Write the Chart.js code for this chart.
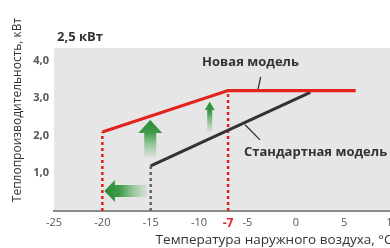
<!DOCTYPE html>
<html><head><meta charset="utf-8">
<script src="https://cdn.jsdelivr.net/npm/chart.js@4/dist/chart.umd.min.js"></script>
<style>
html,body{margin:0;padding:0;overflow:hidden;background:#fff;width:390px;height:248px}
#wrap{width:400px;height:248px}
</style></head>
<body><div id="wrap"><canvas id="c" width="400" height="248"></canvas></div>
<script>
// ---- data ----
const xTicks = [-25, -20, -15, -10, -7, -5, 0, 5, 10];
const yTicks = [1, 2, 3, 4];
const newModelX = [-20, -7, 6.2];
const newModelY = [2.1, 3.2, 3.2];
const stdModelX = [-15, 1.5];
const stdModelY = [1.2, 3.15];
const redDropX = [-20, -7];
const redDropY = [2.1, 3.2];
const grayDropX = [-15];
const grayDropY = [1.2];
const labels = ["Новая модель", "Стандартная модель"];
const unitLabel = "2,5 кВт";
const yTitle = "Теплопроизводительность, кВт";
const xTitle = "Температура наружного воздуха, °С";
const upArrows = [
  {x: -15.05, tip: 2.42, base: 2.07, tail: 1.45, head: 12, body: 6},
  {x: -8.9, tip: 2.9, base: 2.68, tail: 2.1, head: 5, body: 2.5}
];
const leftArrow = {y: 0.53, tip: -19.8, base: -18.7, tail: -15.4, head: 11, body: 6};

const RED = '#e3231d', DARK = '#333333', GRAY = '#555555';
const pts = (xs, ys) => xs.map((x, i) => ({x, y: ys[i]}));

const datasets = [
  {data: pts(newModelX, newModelY), borderColor: RED, borderWidth: 3.2},
  {data: pts(stdModelX, stdModelY), borderColor: DARK, borderWidth: 3}
];
redDropX.forEach((x, i) => datasets.push({data: [{x, y: 0}, {x, y: redDropY[i]}], borderColor: RED, borderWidth: 2.5, borderDash: [3, 3]}));
grayDropX.forEach((x, i) => datasets.push({data: [{x, y: 0}, {x, y: grayDropY[i]}], borderColor: '#666', borderWidth: 2.5, borderDash: [3, 3]}));
datasets.forEach(d => { d.pointRadius = 0; d.fill = false; d.tension = 0; });

const FONT = "'Open Sans', 'DejaVu Sans', sans-serif";

const deco = {
  id: 'deco',
  beforeDraw(chart) {
    const {ctx, chartArea: a} = chart;
    ctx.save();
    ctx.fillStyle = '#e6e6e6';
    ctx.fillRect(a.left, a.top, a.right - a.left, a.bottom - a.top);
    ctx.restore();
  },
  beforeDatasetsDraw(chart) {
    const {ctx, scales: {x, y}} = chart;
    ctx.save();
    upArrows.forEach(ar => {
      const cx = x.getPixelForValue(ar.x);
      const pt = y.getPixelForValue(ar.tip), pb = y.getPixelForValue(ar.base), pl = y.getPixelForValue(ar.tail);
      const g = ctx.createLinearGradient(0, pt, 0, pl);
      g.addColorStop(0, '#2e8b3a'); g.addColorStop(0.35, '#3d9a47'); g.addColorStop(1, 'rgba(120,190,125,0.15)');
      ctx.fillStyle = g;
      ctx.beginPath();
      ctx.moveTo(cx, pt); ctx.lineTo(cx + ar.head, pb); ctx.lineTo(cx + ar.body, pb);
      ctx.lineTo(cx + ar.body, pl); ctx.lineTo(cx - ar.body, pl); ctx.lineTo(cx - ar.body, pb);
      ctx.lineTo(cx - ar.head, pb); ctx.closePath(); ctx.fill();
    });
    const la = leftArrow;
    const cy = y.getPixelForValue(la.y);
    const xt = x.getPixelForValue(la.tip), xb = x.getPixelForValue(la.base), xl = x.getPixelForValue(la.tail);
    const g2 = ctx.createLinearGradient(xt, 0, xl, 0);
    g2.addColorStop(0, '#2e8b3a'); g2.addColorStop(0.35, '#3d9a47'); g2.addColorStop(1, 'rgba(120,190,125,0.15)');
    ctx.fillStyle = g2;
    ctx.beginPath();
    ctx.moveTo(xt, cy); ctx.lineTo(xb, cy - la.head); ctx.lineTo(xb, cy - la.body);
    ctx.lineTo(xl, cy - la.body); ctx.lineTo(xl, cy + la.body); ctx.lineTo(xb, cy + la.body);
    ctx.lineTo(xb, cy + la.head); ctx.closePath(); ctx.fill();
    ctx.restore();
  },
  afterDraw(chart) {
    const {ctx, scales: {x, y}} = chart;
    ctx.save();
    ctx.fillStyle = DARK;
    ctx.textBaseline = 'middle';
    ctx.font = `bold 13px ${FONT}`;
    ctx.textAlign = 'center';
    ctx.fillText(labels[0], x.getPixelForValue(-4.68), y.getPixelForValue(3.94));
    ctx.textAlign = 'left';
    ctx.fillText(labels[1], x.getPixelForValue(-5.35), y.getPixelForValue(1.57));
    ctx.fillText(unitLabel, 57, 37);
    ctx.strokeStyle = DARK; ctx.lineWidth = 1.3;
    ctx.beginPath();
    ctx.moveTo(x.getPixelForValue(-3.63), y.getPixelForValue(3.56));
    ctx.lineTo(x.getPixelForValue(-3.9), y.getPixelForValue(3.24));
    ctx.moveTo(x.getPixelForValue(-5.25), y.getPixelForValue(2.29));
    ctx.lineTo(x.getPixelForValue(-3.7), y.getPixelForValue(1.89));
    ctx.stroke();
    ctx.translate(18, 110);
    ctx.rotate(-Math.PI / 2);
    ctx.textAlign = 'center';
    ctx.font = `12px ${FONT}`;
    ctx.fillStyle = DARK;
    ctx.fillText(yTitle, 0, 0);
    ctx.restore();
  }
};

new Chart(document.getElementById('c'), {
  type: 'line',
  data: {datasets},
  options: {
    responsive: false,
    animation: false,
    devicePixelRatio: 1,
    layout: {padding: {top: 48, left: 0, right: 7.5, bottom: 0}},
    plugins: {legend: {display: false}, tooltip: {enabled: false}},
    scales: {
      x: {
        type: 'linear', min: -25, max: 10,
        afterBuildTicks: s => { s.ticks = xTicks.map(v => ({value: v})); },
        afterFit: s => { s.height = 37; s.paddingLeft = 0; s.paddingRight = 0; },
        grid: {display: false, drawTicks: false},
        border: {display: true, color: '#8a8a8a', width: 2},
        ticks: {
          autoSkip: false, maxRotation: 0, padding: 5,
          color: c => c.tick && c.tick.value === -7 ? RED : GRAY,
          font: c => (c.tick && c.tick.value === -7) ? {family: FONT, size: 12, weight: 'bold'} : {family: FONT, size: 11},
          callback: v => String(v)
        },
        title: {display: true, text: xTitle, align: 'end', color: DARK, font: {family: FONT, size: 13.5}, padding: {top: 0, bottom: 0}}
      },
      y: {
        type: 'linear', min: 0, max: 4.33,
        afterBuildTicks: s => { s.ticks = yTicks.map(v => ({value: v})); },
        afterFit: s => { s.width = 54; s.paddingTop = 0; s.paddingBottom = 0; },
        grid: {display: false, drawTicks: false},
        border: {display: false},
        ticks: {
          padding: 5, color: GRAY,
          font: {family: FONT, size: 11, weight: 'bold'},
          callback: v => v.toFixed(1).replace('.', ',')
        }
      }
    }
  },
  plugins: [deco]
});
</script>
</body></html>
